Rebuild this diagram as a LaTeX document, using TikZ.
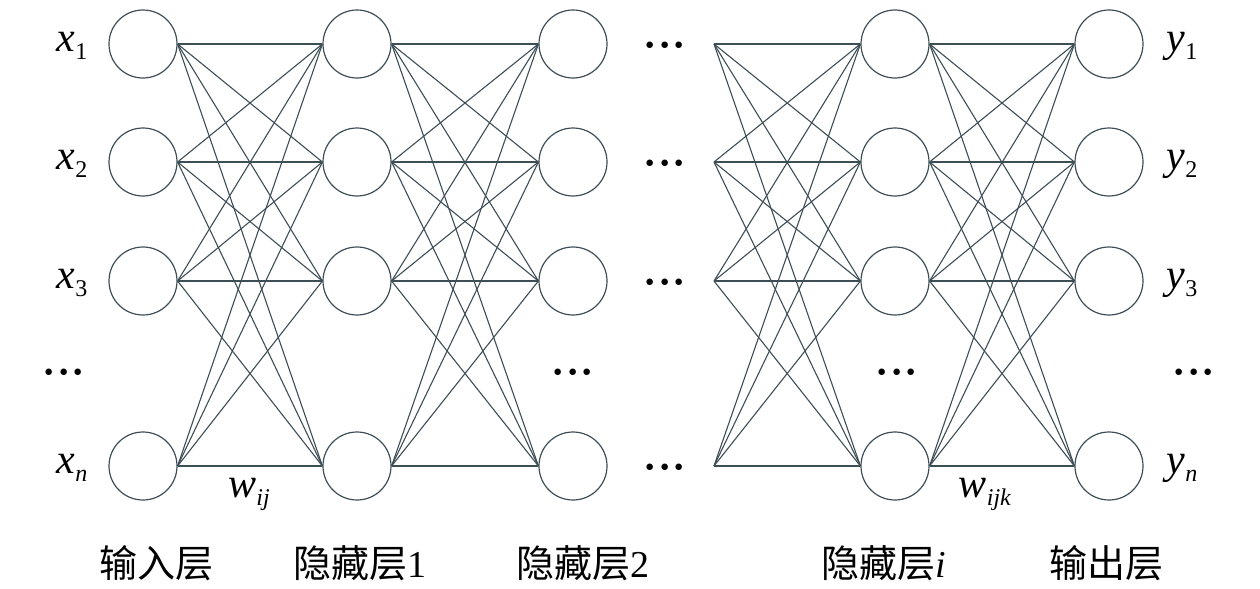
\documentclass[tikz,border=0pt]{standalone}
\usepackage{fontspec}
\setmainfont{Liberation Serif}
\newfontfamily\cjk{Noto Sans CJK SC}
\definecolor{linkgray}{RGB}{62,78,86}
\newcommand{\vlab}[2]{{\fontsize{21}{24}\selectfont\textit{#1}\raisebox{-4pt}{\fontsize{12}{14}\selectfont #2}}}
\newcommand{\wlab}[2]{{\fontsize{21}{24}\selectfont\textit{#1}\raisebox{-4pt}{\fontsize{12}{14}\selectfont\textit{#2}}}}
\newcommand{\skipdots}{{\fontsize{20}{24}\selectfont\bfseries ·\kern0.6pt·\kern0.6pt·}}
\begin{document}
\begin{tikzpicture}[x=0.5pt,y=-0.5pt,
    neuron/.style={circle,draw=linkgray,line width=0.6pt,minimum size=34pt,inner sep=0pt},
    link/.style={draw=linkgray,line width=0.55pt},
    layername/.style={font=\fontsize{19}{22}\selectfont}]

  \useasboundingbox (0,0) rectangle (1260,589);

  % neurons
  \foreach \c/\x in {1/143,2/357,3/573,4/895,5/1109}
    \foreach \r/\y in {1/44,2/162,3/281,4/466}
      \node[neuron] (n\c-\r) at (\x,\y) {};

  % open ends before the last hidden layer
  \foreach \r/\y in {1/44,2/162,3/281,4/466} {
    \coordinate (v\r) at (714,\y);
    \node (gap\r) at (665,\y+6) {\skipdots};
  }

  % weights
  \foreach \a in {1,...,4}
    \foreach \b in {1,...,4} {
      \draw[link] (n1-\a.east) -- (n2-\b.west);
      \draw[link] (n2-\a.east) -- (n3-\b.west);
      \draw[link] (v\a) -- (n4-\b.west);
      \draw[link] (n4-\a.east) -- (n5-\b.west);
    }

  % inputs and outputs
  \node (x1) at (72,46) {\vlab{x}{1}};
  \node (x2) at (72,164) {\vlab{x}{2}};
  \node (x3) at (72,283) {\vlab{x}{3}};
  \node (xn) at (72,468) {\vlab{x}{\textit{n}}};
  \node (y1) at (1182,46) {\vlab{y}{1}};
  \node (y2) at (1182,164) {\vlab{y}{2}};
  \node (y3) at (1182,283) {\vlab{y}{3}};
  \node (yn) at (1182,468) {\vlab{y}{\textit{n}}};

  % skipped rows
  \node (dx) at (64,377) {\skipdots};
  \node (d3) at (573,377) {\skipdots};
  \node (d4) at (897,377) {\skipdots};
  \node (dy) at (1194,377) {\skipdots};

  \node (w1) at (249,494) {\wlab{w}{ij}};
  \node (w2) at (985,494) {\wlab{w}{ijk}};

  % layer names
  \node[layername] (l1) at (156,563) {\cjk 输入层};
  \node[layername] (l2) at (360,563) {\cjk 隐藏层\rmfamily 1};
  \node[layername] (l3) at (583,563) {\cjk 隐藏层\rmfamily 2};
  \node[layername] (l4) at (884,563) {\cjk 隐藏层\rmfamily\textit{i}};
  \node[layername] (l5) at (1106,563) {\cjk 输出层};

\end{tikzpicture}
\end{document}
